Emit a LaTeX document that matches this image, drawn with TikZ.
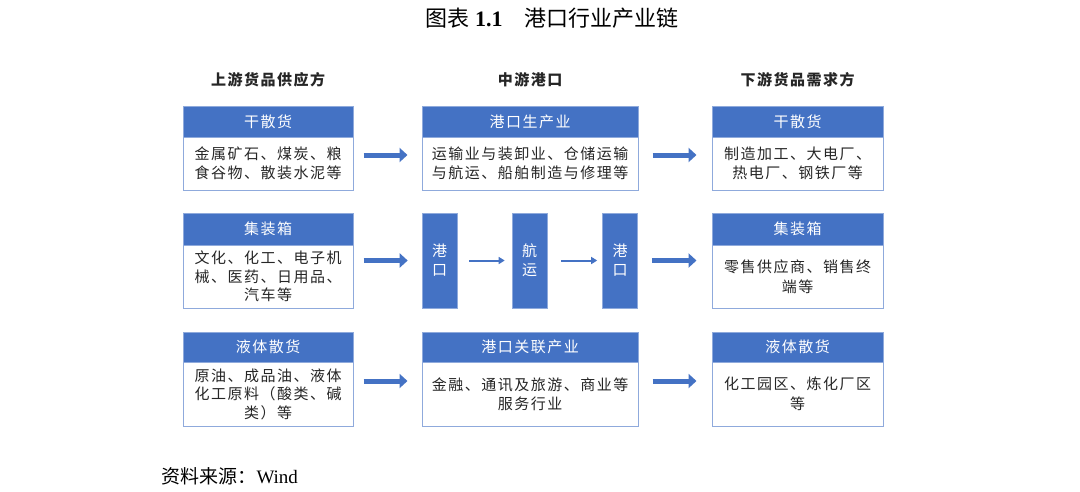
\documentclass[tikz,border=0pt]{standalone}
\usepackage{fontspec}
\setmainfont{Liberation Serif}
\newfontfamily\cjk[LetterSpace=10]{Noto Sans CJK SC}
\newfontfamily\cjkplain{Noto Sans CJK SC}
\usetikzlibrary{arrows.meta}
\definecolor{hdrblue}{HTML}{4472C4}
\definecolor{edgeblue}{HTML}{8FAADC}
\begin{document}
\begin{tikzpicture}[x=1pt,y=-1pt,
  hdr/.style={fill=hdrblue, draw=edgeblue, line width=1pt, text=white, font=\cjk\fontsize{15}{20}\selectfont, inner sep=0pt, align=center},
  body/.style={fill=white, draw=edgeblue, line width=1pt, text=black!85, font=\cjk\fontsize{15}{19.5}\selectfont, inner sep=0pt, align=center},
  vbox/.style={fill=hdrblue, draw=edgeblue, line width=0.6pt, text=white, font=\cjk\fontsize{15}{19}\selectfont, inner sep=0pt, align=center, minimum width=35, minimum height=95},
  lbl/.style={text=black!85, font=\cjk\fontsize{15}{18}\selectfont\bfseries},
  bigarrow/.style={draw=hdrblue, line width=5pt, -{Triangle[length=8pt,width=14pt]}},
  thinarrow/.style={draw=hdrblue, line width=2pt, -{Triangle[length=6pt,width=7pt]}}
]
\useasboundingbox (0,0) rectangle (1080,491);

% title
\node (title) at (552,18) {\fontsize{22}{26}\selectfont{\cjkplain 图表} \textbf{1.1}\quad{\cjkplain 港口行业产业链}};

% column labels
\node[lbl] (c1) at (268,80) {上游货品供应方};
\node[lbl] (c2) at (530,80) {中游港口};
\node[lbl] (c3) at (797.5,80) {下游货品需求方};

% row 1
\node[hdr, minimum width=170, minimum height=31] (L1h) at (268,121.5) {干散货};
\node[body, minimum width=170, minimum height=53] (L1b) at (268,163.5) {金属矿石、煤炭、粮\\食谷物、散装水泥等};
\node[hdr, minimum width=216, minimum height=31] (M1h) at (530,121.5) {港口生产业};
\node[body, minimum width=216, minimum height=53] (M1b) at (530,163.5) {运输业与装卸业、仓储运输\\与航运、船舶制造与修理等};
\node[hdr, minimum width=171, minimum height=31] (R1h) at (797.5,121.5) {干散货};
\node[body, minimum width=171, minimum height=53] (R1b) at (797.5,163.5) {制造加工、大电厂、\\热电厂、钢铁厂等};

% row 2
\node[hdr, minimum width=170, minimum height=32] (L2h) at (268,229) {集装箱};
\node[body, minimum width=170, minimum height=63, font=\cjk\fontsize{15}{18.5}\selectfont] (L2b) at (268,276.5) {文化、化工、电子机\\械、医药、日用品、\\汽车等};
\node[vbox] (P1) at (439.5,260.5) {港\\口};
\node[vbox] (S) at (529.5,260.5) {航\\运};
\node[vbox] (P2) at (620,260.5) {港\\口};
\node[hdr, minimum width=171, minimum height=32] (R2h) at (797.5,229) {集装箱};
\node[body, minimum width=171, minimum height=63] (R2b) at (797.5,276.5) {零售供应商、销售终\\端等};

% row 3
\node[hdr, minimum width=170, minimum height=30] (L3h) at (268,347) {液体散货};
\node[body, minimum width=170, minimum height=64, font=\cjk\fontsize{15}{18.5}\selectfont] (L3b) at (268,394) {原油、成品油、液体\\化工原料（酸类、碱\\类）等};
\node[hdr, minimum width=216, minimum height=30] (M3h) at (530,347) {港口关联产业};
\node[body, minimum width=216, minimum height=64] (M3b) at (530,394) {金融、通讯及旅游、商业等\\服务行业};
\node[hdr, minimum width=171, minimum height=30] (R3h) at (797.5,347) {液体散货};
\node[body, minimum width=171, minimum height=64] (R3b) at (797.5,394) {化工园区、炼化厂区\\等};

% arrows
\draw[bigarrow, shorten <=10pt, shorten >=14pt] ([yshift=8.5pt]L1b.east) -- ([yshift=8.5pt]M1b.west);
\draw[bigarrow, shorten <=14pt, shorten >=15pt] ([yshift=8.5pt]M1b.east) -- ([yshift=8.5pt]R1b.west);
\draw[bigarrow, shorten <=10pt, shorten >=14pt] (L2b.east |- P1.west) -- (P1.west);
\draw[thinarrow, shorten <=12pt, shorten >=7pt] (P1.east) -- (S.west);
\draw[thinarrow, shorten <=14pt, shorten >=5pt] (S.east) -- (P2.west);
\draw[bigarrow, shorten <=14pt, shorten >=15pt] (P2.east) -- (R2b.west |- P2.east);
\draw[bigarrow, shorten <=10pt, shorten >=14pt] ([yshift=13pt]L3b.east) -- ([yshift=13pt]M3b.west);
\draw[bigarrow, shorten <=14pt, shorten >=15pt] ([yshift=13pt]M3b.east) -- ([yshift=13pt]R3b.west);

% source
\node[anchor=west] (src) at (158,476) {\fontsize{19}{23}\selectfont{\cjkplain 资料来源：}Wind};
\end{tikzpicture}
\end{document}
